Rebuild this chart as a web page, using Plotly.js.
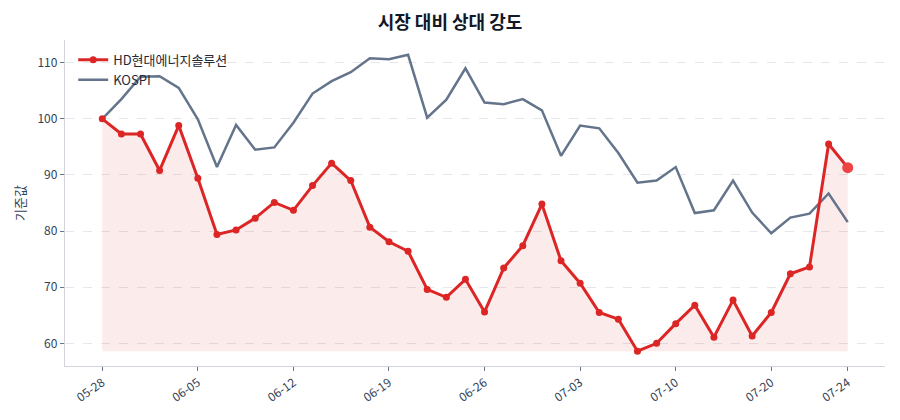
<!DOCTYPE html>
<html>
<head>
<meta charset="utf-8">
<script src="https://cdn.plot.ly/plotly-3.0.1.min.js"></script>
<style>
  html, body { margin: 0; padding: 0; background: #fff; }
  #chart { width: 900px; height: 420px; }
</style>
</head>
<body>
<div id="chart"></div>
<script>
// trading days (MM-DD)
const dates = [
  "05-28","05-29","05-30","06-02","06-04","06-05","06-06","06-09","06-10","06-11",
  "06-12","06-13","06-16","06-17","06-18","06-19","06-20","06-23","06-24","06-25",
  "06-26","06-27","06-30","07-01","07-02","07-03","07-04","07-07","07-08","07-09",
  "07-10","07-11","07-14","07-15","07-17","07-20","07-21","07-22","07-23","07-24"
];

const stockName = "HD현대에너지솔루션";
const stockVals = [
  100.0, 97.3, 97.3, 90.8, 98.8, 89.4, 79.4, 80.2, 82.3, 85.1,
  83.7, 88.1, 92.1, 89.0, 80.7, 78.1, 76.4, 69.6, 68.2, 71.4,
  65.6, 73.4, 77.4, 84.8, 74.7, 70.7, 65.5, 64.3, 58.6, 60.0,
  63.5, 66.8, 61.1, 67.7, 61.3, 65.5, 72.4, 73.6, 95.5, 91.3
];

const kospiVals = [
  100.0, 103.5, 107.5, 107.6, 105.5, 99.9, 91.4, 98.9, 94.5, 94.9,
  99.3, 104.5, 106.7, 108.3, 110.8, 110.6, 111.4, 100.2, 103.4, 109.0,
  102.9, 102.6, 103.5, 101.5, 93.4, 98.8, 98.3, 93.9, 88.6, 89.0,
  91.4, 83.2, 83.7, 89.0, 83.3, 79.6, 82.4, 83.1, 86.7, 81.6
];

const tickDates = ["05-28","06-05","06-12","06-19","06-26","07-03","07-10","07-20","07-24"];

const RED = "#dc2626";
const SLATE = "#64748b";
const FONT = "Noto Sans CJK KR, Noto Sans, sans-serif";

const idx = dates.map((d, i) => i);
const base = Math.min(...stockVals);
const lastI = dates.length - 1;

const traces = [
  // baseline for the shaded area
  { x: idx, y: idx.map(() => base), type: "scatter", mode: "lines",
    line: { width: 0 }, hoverinfo: "skip", showlegend: false },
  { x: idx, y: stockVals, type: "scatter", mode: "lines", fill: "tonexty",
    fillcolor: "rgba(220,38,38,0.09)", line: { width: 0 },
    hoverinfo: "skip", showlegend: false },
  { x: idx, y: kospiVals, type: "scatter", mode: "lines", name: "KOSPI",
    line: { color: SLATE, width: 2.5 } },
  { x: idx, y: stockVals, type: "scatter", mode: "lines+markers", name: stockName,
    line: { color: RED, width: 3 }, marker: { color: RED, size: 7 } },
  { x: [lastI], y: [stockVals[lastI]], type: "scatter", mode: "markers",
    marker: { color: "#ef4444", size: 11 }, showlegend: false }
];

const layout = {
  width: 900, height: 420,
  paper_bgcolor: "#fff", plot_bgcolor: "#fff",
  font: { family: FONT, color: "#334155", size: 12 },
  margin: { l: 65, r: 15, t: 40, b: 54 },
  title: { text: "<b>시장 대비 상대 강도</b>", x: 0.5, y: 0.945, yanchor: "middle",
    font: { size: 18, color: "#111827", family: FONT } },
  showlegend: true,
  legend: { x: 0.01, y: 0.985, xanchor: "left", yanchor: "top", traceorder: "reversed",
    bgcolor: "rgba(255,255,255,0)", font: { size: 13, color: "#1f2937" },
    tracegroupgap: 0 },
  xaxis: {
    range: [-1.95, lastI + 1.95], showgrid: false, zeroline: false,
    tickmode: "array", tickvals: tickDates.map(d => dates.indexOf(d)), ticktext: tickDates,
    tickangle: -35, ticks: "outside", ticklen: 4, tickcolor: "#64748b",
    showline: true, linecolor: "#d1d5db", linewidth: 1.2,
    tickfont: { size: 12, color: "#334155" }
  },
  yaxis: {
    range: [55.96, 114.04], dtick: 10, zeroline: false,
    showgrid: true, gridcolor: "#e5e7eb", griddash: "dash", gridwidth: 1,
    ticks: "outside", ticklen: 4, tickcolor: "#64748b",
    showline: true, linecolor: "#d1d5db", linewidth: 1.2,
    title: { text: "기준값", font: { size: 13, color: "#334155" }, standoff: 8 },
    tickfont: { size: 12, color: "#334155" }
  }
};

Plotly.newPlot("chart", traces, layout, { displayModeBar: false, staticPlot: true });
</script>
</body>
</html>
